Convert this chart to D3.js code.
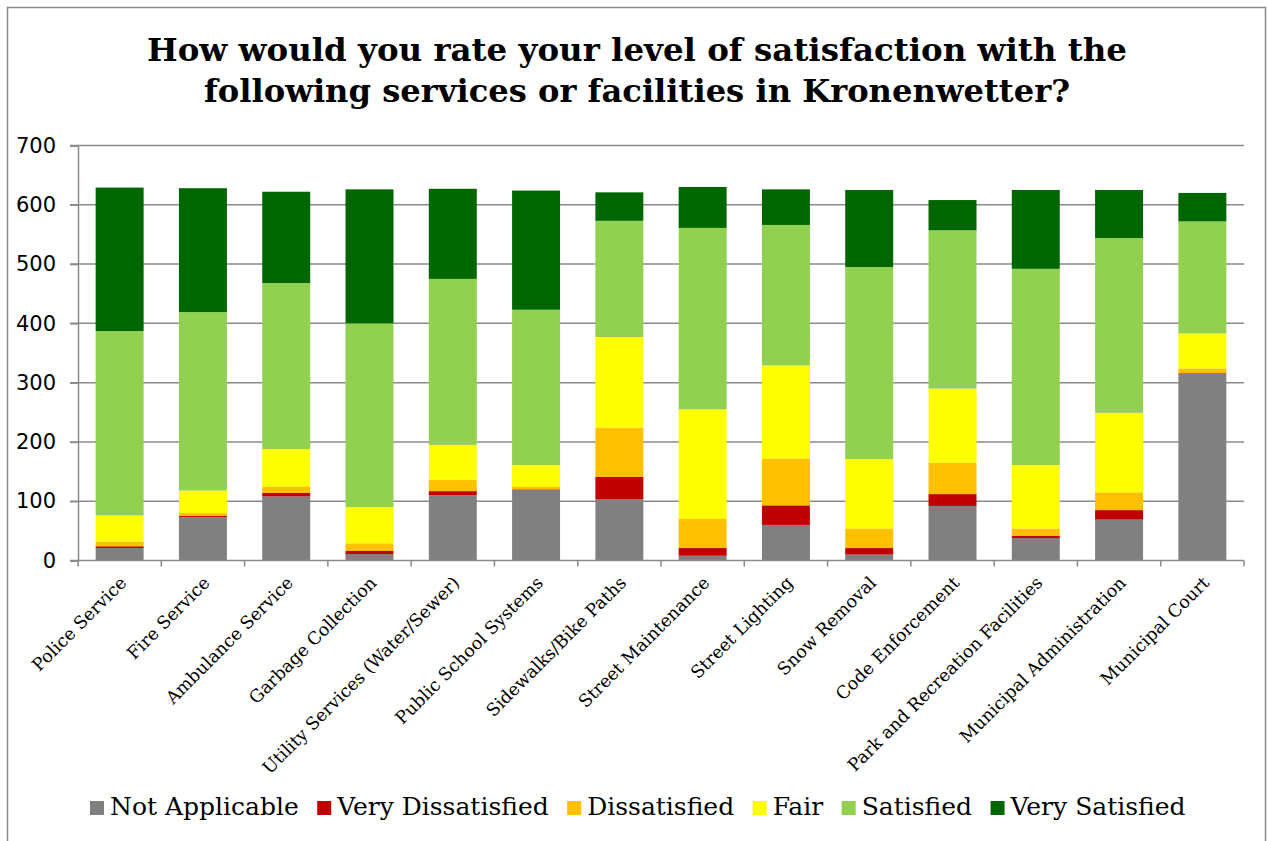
<!DOCTYPE html>
<html>
<head>
<meta charset="utf-8">
<script src="https://cdn.jsdelivr.net/npm/d3@7"></script>
<style>
  html, body { margin: 0; padding: 0; background: #fff; }
  svg { display: block; }
</style>
</head>
<body>
<svg id="chart" width="1267" height="841"></svg>
<script>
const categories = ["Police Service","Fire Service","Ambulance Service","Garbage Collection","Utility Services (Water/Sewer)","Public School Systems","Sidewalks/Bike Paths","Street Maintenance","Street Lighting","Snow Removal","Code Enforcement","Park and Recreation Facilities","Municipal Administration","Municipal Court"];
const notApplicable    = [21, 73, 108, 11, 110, 119, 103,   8,  60,  10,  92,  38,  69, 315];
const veryDissatisfied = [ 3,  2,   6,  5,   7,   1,  38,  13,  33,  11,  20,   4,  16,   1];
const dissatisfied     = [ 8,  5,  11, 13,  19,   4,  83,  49,  79,  33,  53,  12,  30,   8];
const fair             = [44, 38,  63, 61,  59,  37, 153, 185, 157, 117, 125, 107, 134,  59];
const satisfied        = [311,301,280,310, 280, 262, 196, 306, 237, 324, 267, 331, 295, 189];
const verySatisfied    = [242,209,154,226, 152, 201,  48,  69,  60, 130,  51, 133,  81,  48];
const seriesNames  = ["Not Applicable","Very Dissatisfied","Dissatisfied","Fair","Satisfied","Very Satisfied"];
const seriesColors = ["#808080","#C00000","#FFC000","#FFFF00","#92D050","#006600"];
const yTicks = [0,100,200,300,400,500,600,700];
const titleLines = ["How would you rate your level of satisfaction with the","following services or facilities in Kronenwetter?"];

const seriesValues = [notApplicable, veryDissatisfied, dissatisfied, fair, satisfied, verySatisfied];
const table = categories.map((c, i) => {
  const row = { category: c };
  seriesNames.forEach((s, k) => row[s] = seriesValues[k][i]);
  return row;
});

const svg = d3.select("#chart");
const gridColor = "#8a8a8a";

// outer border
svg.append("rect").attr("x", 7.5).attr("y", 7.5).attr("width", 1258).attr("height", 845)
  .attr("fill", "none").attr("stroke", "#8a8a8a").attr("stroke-width", 1.5);

const x = d3.scaleBand().domain(categories).range([78, 1244]).paddingInner(0.424).paddingOuter(0.212);
const y = d3.scaleLinear().domain([0, 700]).range([560.5, 145.5]);

// gridlines
svg.append("g").selectAll("line").data(yTicks.filter(d => d > 0)).join("line")
  .attr("x1", 70).attr("x2", 1244)
  .attr("y1", d => y(d)).attr("y2", d => y(d))
  .attr("stroke", gridColor).attr("stroke-width", 1.5);

// y axis
const yAxis = svg.append("g").attr("transform", "translate(78,0)")
  .call(d3.axisLeft(y).tickValues(yTicks).tickSize(8).tickPadding(14).tickFormat(d3.format("d")));
yAxis.select(".domain").attr("stroke", gridColor).attr("stroke-width", 1.5);
yAxis.selectAll(".tick line").attr("stroke", gridColor).attr("stroke-width", 1.5);
yAxis.selectAll(".tick text").attr("font-family", "DejaVu Sans, Verdana, sans-serif")
  .attr("font-size", 21).attr("fill", "#000");

// stacked bars
const stack = d3.stack().keys(seriesNames)(table);
svg.append("g").selectAll("g").data(stack).join("g")
  .attr("fill", (d, i) => seriesColors[i])
  .selectAll("rect").data(d => d).join("rect")
  .attr("x", d => x(d.data.category))
  .attr("width", x.bandwidth())
  .attr("y", d => y(d[1]))
  .attr("height", d => y(d[0]) - y(d[1]));

// x axis
const step = x.step();
const boundaries = d3.range(categories.length + 1).map(i => 78 + i * step);
svg.append("line").attr("x1", 70).attr("x2", 1244).attr("y1", y(0)).attr("y2", y(0))
  .attr("stroke", gridColor).attr("stroke-width", 1.5);
svg.append("g").selectAll("line").data(boundaries).join("line")
  .attr("x1", d => d).attr("x2", d => d).attr("y1", y(0)).attr("y2", y(0) + 6)
  .attr("stroke", gridColor).attr("stroke-width", 1.5);

svg.append("g").selectAll("text").data(categories).join("text")
  .attr("transform", d => `translate(${x(d) + x.bandwidth() / 2 - 1},${575}) rotate(-45)`)
  .attr("text-anchor", "end")
  .attr("dy", "0.72em")
  .attr("font-family", "DejaVu Serif, serif")
  .attr("font-size", 17.5)
  .attr("fill", "#000")
  .text(d => d);

// title
const titleG = svg.append("g");
const titleY = [61, 102];
const titleW = [980, 866];
titleLines.forEach((t, i) => {
  titleG.append("text")
    .attr("x", 637).attr("y", titleY[i])
    .attr("text-anchor", "middle")
    .attr("font-family", "DejaVu Serif, serif")
    .attr("font-weight", "bold")
    .attr("font-size", 32)
    .attr("textLength", titleW[i])
    .attr("lengthAdjust", "spacingAndGlyphs")
    .text(t);
});

// legend
const legend = svg.append("g");
let lx = 90;
seriesNames.forEach((s, i) => {
  legend.append("rect").attr("x", lx).attr("y", 801).attr("width", 14).attr("height", 14)
    .attr("fill", seriesColors[i]);
  const t = legend.append("text").attr("x", lx + 20).attr("y", 815)
    .attr("font-family", "DejaVu Serif, serif").attr("font-size", 25).attr("fill", "#000")
    .text(s);
  lx += 20 + t.node().getComputedTextLength() + 18.5;
});
</script>
</body>
</html>
